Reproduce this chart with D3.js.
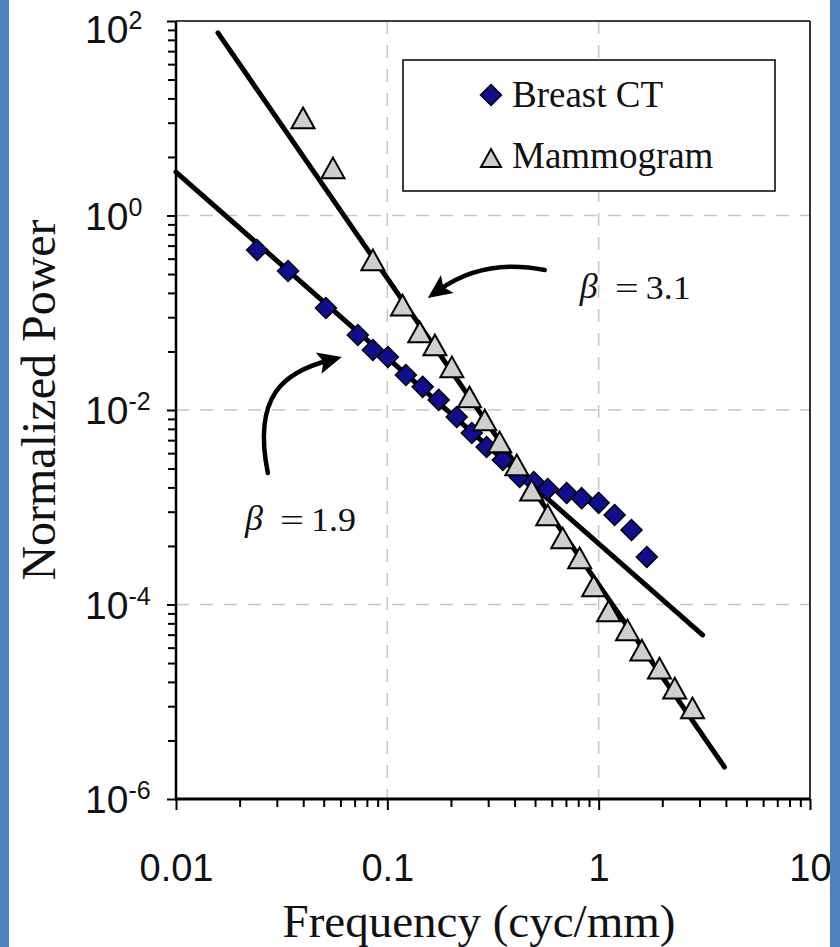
<!DOCTYPE html>
<html lang="en">
<head>
<meta charset="utf-8">
<title>Normalized power spectra</title>
<style>
  body { margin: 0; background: white; }
  svg { display: block; }
  .sans { font-family: "Liberation Sans", Arial, sans-serif; }
  .serif { font-family: "Liberation Serif", "Times New Roman", serif; }
</style>
</head>
<body>
<div id="chart"></div>
<script src="https://d3js.org/d3.v7.min.js"></script>
<script>
// values
var breastFreq  = [0.0242, 0.0339, 0.0512, 0.0725, 0.0854, 0.1006, 0.1224, 0.147, 0.175, 0.213, 0.251,
                   0.295, 0.352, 0.423, 0.493, 0.574, 0.706, 0.831, 1.0, 1.19, 1.43, 1.69];
var breastPower = [0.442, 0.269, 0.112, 0.059, 0.0414, 0.0351, 0.0229, 0.0173, 0.0127, 0.00847, 0.0058,
                   0.00417, 0.00306, 0.00205, 0.00182, 0.00154, 0.0014, 0.00124, 0.00111, 0.000832, 0.000583, 0.000308];

var mammoFreq  = [0.0399, 0.0553, 0.0854, 0.118, 0.1425, 0.168, 0.202, 0.245, 0.289, 0.34, 0.41,
                  0.482, 0.574, 0.676, 0.813, 0.947, 1.115, 1.37, 1.6, 1.94, 2.29, 2.78];
var mammoPower = [10.1, 3.08, 0.349, 0.12, 0.0634, 0.0466, 0.0277, 0.0136, 0.00789, 0.00469, 0.00272,
                  0.0015, 0.000832, 0.000483, 0.000301, 0.000155, 8.57e-5, 5.47e-5, 3.4e-5, 2.22e-5, 1.38e-5, 8.63e-6];

// power-law fit lines (end points)
var breastFitFreq  = [0.01, 3.1];
var breastFitPower = [2.8, 4.86e-5];
var mammoFitFreq   = [0.0158, 3.94];
var mammoFitPower  = [75.4, 2.13e-6];

var xTickValues = [0.01, 0.1, 1, 10];
var xTickLabels = ["0.01", "0.1", "1", "10"];
var yTickExponents = [2, 0, -2, -4, -6];
var legendLabels = ["Breast CT", "Mammogram"];
var betaLabels = ["3.1", "1.9"];

// annotation arrows (freq, power): start, control 1, control 2, tip
var arrowBeta31 = [[0.5555, 0.2752], [0.3594, 0.3325], [0.2455, 0.2885], [0.1554, 0.1418]];
var arrowBeta19 = [[0.0272, 0.00225], [0.0229, 0.0143], [0.0328, 0.0246], [0.0609, 0.0351]];
var labelBeta31 = [0.813, 0.138];
var labelBeta19 = [0.0212, 0.000565];

var width = 840, height = 947;
var plot = {left: 176, right: 810, top: 21, bottom: 799};

var svg = d3.select("#chart").append("svg")
    .attr("width", width)
    .attr("height", height);

svg.append("rect").attr("width", width).attr("height", height).attr("fill", "white");

var x = d3.scaleLog().domain([0.01, 10]).range([plot.left, plot.right]);
var y = d3.scaleLog().domain([1e-6, 1e2]).range([plot.bottom, plot.top]);

// gridlines (dashed, only at inner labelled decades)
var g = svg.append("g");
g.selectAll(".vgrid").data([0.1, 1]).enter().append("line")
    .attr("x1", d => x(d)).attr("x2", d => x(d))
    .attr("y1", plot.top).attr("y2", plot.bottom)
    .attr("stroke", "#c6c6c6").attr("stroke-width", 1.5).attr("stroke-dasharray", "13,11");
g.selectAll(".hgrid").data([1, 1e-2, 1e-4]).enter().append("line")
    .attr("y1", d => y(d)).attr("y2", d => y(d))
    .attr("x1", plot.left).attr("x2", plot.right)
    .attr("stroke", "#c6c6c6").attr("stroke-width", 1.5).attr("stroke-dasharray", "13,11");

// minor ticks
var xMinor = [];
[0.01, 0.1, 1].forEach(function(d) { for (var k = 2; k <= 9; k++) xMinor.push(d * k); });
var yMinor = [];
[1e-6, 1e-4, 1e-2, 1].forEach(function(d) { for (var k = 2; k <= 9; k++) yMinor.push(d * k * k); });

svg.append("g").attr("transform", "translate(0," + plot.bottom + ")")
    .call(d3.axisBottom(x).tickValues(xMinor).tickSize(8).tickSizeOuter(0).tickFormat(""))
    .call(s => s.select(".domain").remove())
    .selectAll("line").attr("stroke-width", 2);

svg.append("g").attr("transform", "translate(0," + plot.bottom + ")")
    .call(d3.axisBottom(x).tickValues(xTickValues).tickSize(11).tickSizeOuter(0).tickPadding(44)
        .tickFormat((d, i) => xTickLabels[i]))
    .call(s => s.select(".domain").remove())
    .call(s => s.selectAll("line").attr("stroke-width", 2))
    .call(s => s.selectAll("text").attr("class", "sans").attr("font-size", 38).attr("fill", "#111"));

svg.append("g").attr("transform", "translate(" + plot.left + ",0)")
    .call(d3.axisLeft(y).tickValues(yMinor).tickSize(8).tickSizeOuter(0).tickFormat(""))
    .call(s => s.select(".domain").remove())
    .selectAll("line").attr("stroke-width", 2);

svg.append("g").attr("transform", "translate(" + plot.left + ",0)")
    .call(d3.axisLeft(y).tickValues(yTickExponents.map(e => Math.pow(10, e))).tickSize(9).tickSizeOuter(0).tickFormat(""))
    .call(s => s.select(".domain").remove())
    .selectAll("line").attr("stroke-width", 2);

// y labels 10^n, left aligned
var yl = svg.append("g").attr("class", "sans").attr("fill", "#111");
yTickExponents.forEach(function(e) {
    var t = yl.append("text")
        .attr("x", 85)
        .attr("y", Math.max(y(Math.pow(10, e)) + 14, 43))
        .attr("font-size", 39);
    t.append("tspan").text("10");
    t.append("tspan").attr("font-size", 25).attr("dy", -14).text(e < 0 ? "-" + (-e) : String(e));
});

// frame
var frame = svg.append("g").attr("stroke", "#000");
frame.append("line").attr("x1", plot.left).attr("x2", plot.right).attr("y1", plot.top).attr("y2", plot.top).attr("stroke-width", 1.5);
frame.append("line").attr("x1", plot.right).attr("x2", plot.right).attr("y1", plot.top).attr("y2", plot.bottom).attr("stroke-width", 2).attr("stroke", "#333");
frame.append("line").attr("x1", plot.left).attr("x2", plot.left).attr("y1", plot.top).attr("y2", plot.bottom).attr("stroke-width", 2.5);
frame.append("line").attr("x1", plot.left - 1).attr("x2", plot.right).attr("y1", plot.bottom).attr("y2", plot.bottom).attr("stroke-width", 3);

// legend box
var legend = svg.append("g");
legend.append("rect").attr("x", 403).attr("y", 60).attr("width", 372).attr("height", 131)
    .attr("fill", "white").attr("stroke", "#000").attr("stroke-width", 1.5);

// symbols
var diamondType = {draw: function(p, size) {
    var r = Math.sqrt(size) / 2;
    p.moveTo(0, -r); p.lineTo(r, 0); p.lineTo(0, r); p.lineTo(-r, 0); p.closePath();
}};
var triangleType = {draw: function(p, size) {
    var w = Math.sqrt(size) / 2, h = w * 0.9;
    p.moveTo(0, -h); p.lineTo(w, h); p.lineTo(-w, h); p.closePath();
}};
var diamond = d3.symbol().type(diamondType).size(21 * 21);
var triangle = d3.symbol().type(triangleType).size(23 * 23);

// fit lines
var line = d3.line().x(d => x(d[0])).y(d => y(d[1]));
[[breastFitFreq, breastFitPower], [mammoFitFreq, mammoFitPower]].forEach(function(f) {
    svg.append("path")
        .attr("d", line(d3.zip(f[0], f[1])))
        .attr("fill", "none").attr("stroke", "#000").attr("stroke-width", 5).attr("stroke-linecap", "round");
});

// data points
svg.append("g").selectAll("path").data(d3.zip(breastFreq, breastPower)).enter().append("path")
    .attr("d", diamond)
    .attr("transform", d => "translate(" + x(d[0]) + "," + y(d[1]) + ")")
    .attr("fill", "#0e0e8e").attr("stroke", "#000").attr("stroke-width", 1.5);

svg.append("g").selectAll("path").data(d3.zip(mammoFreq, mammoPower)).enter().append("path")
    .attr("d", triangle)
    .attr("transform", d => "translate(" + x(d[0]) + "," + y(d[1]) + ")")
    .attr("fill", "#cfcfcf").attr("stroke", "#000").attr("stroke-width", 2);

// legend entries
legend.append("path").attr("d", diamond).attr("transform", "translate(491,95)")
    .attr("fill", "#0e0e8e").attr("stroke", "#000").attr("stroke-width", 1.5);
legend.append("path").attr("d", d3.symbol().type(triangleType).size(20 * 20)).attr("transform", "translate(491,158)")
    .attr("fill", "#cfcfcf").attr("stroke", "#000").attr("stroke-width", 2);
legend.selectAll("text").data(legendLabels).enter().append("text")
    .attr("class", "serif").attr("x", 512).attr("y", (d, i) => 107 + i * 61)
    .attr("font-size", 37).attr("fill", "#111").text(d => d);

// annotation arrows
function drawArrow(pts) {
    var p = pts.map(d => [x(d[0]), y(d[1])]);
    var dx = p[3][0] - p[2][0], dy = p[3][1] - p[2][1];
    var len = Math.sqrt(dx * dx + dy * dy);
    var ux = dx / len, uy = dy / len;
    var end = [p[3][0] - ux * 14, p[3][1] - uy * 14];
    var path = d3.path();
    path.moveTo(p[0][0], p[0][1]);
    path.bezierCurveTo(p[1][0], p[1][1], p[2][0], p[2][1], end[0], end[1]);
    svg.append("path").attr("d", path.toString())
        .attr("fill", "none").attr("stroke", "#000").attr("stroke-width", 4.5).attr("stroke-linecap", "round");
    var hl = 24, hw = 11;
    var bx = p[3][0] - ux * hl, by = p[3][1] - uy * hl;
    var head = d3.path();
    head.moveTo(p[3][0], p[3][1]);
    head.lineTo(bx - uy * hw, by + ux * hw);
    head.lineTo(bx + ux * 5, by + uy * 5);
    head.lineTo(bx + uy * hw, by - ux * hw);
    head.closePath();
    svg.append("path").attr("d", head.toString()).attr("fill", "#000");
}
drawArrow(arrowBeta31);
drawArrow(arrowBeta19);

// beta labels: stretched like the original
[[labelBeta31, betaLabels[0]], [labelBeta19, betaLabels[1]]].forEach(function(l) {
    var lx = x(l[0][0]), ly = y(l[0][1]);
    var t = svg.append("g").attr("class", "serif").attr("fill", "#111");
    t.append("text").attr("x", lx).attr("y", ly - 1).attr("font-size", 36)
        .attr("font-style", "italic").text("\u03b2");
    t.append("text").attr("x", lx + 35).attr("y", ly).attr("font-size", 32)
        .attr("textLength", 24).attr("lengthAdjust", "spacingAndGlyphs").text("=");
    t.append("text").attr("x", lx + 66).attr("y", ly).attr("font-size", 33)
        .attr("textLength", 45).attr("lengthAdjust", "spacingAndGlyphs").text(l[1]);
});

// axis titles
svg.append("text").attr("class", "serif")
    .attr("x", 479).attr("y", 937).attr("text-anchor", "middle")
    .attr("font-size", 47).attr("fill", "#111").text("Frequency (cyc/mm)");
svg.append("text").attr("class", "serif")
    .attr("transform", "translate(55,400) rotate(-90)").attr("text-anchor", "middle")
    .attr("font-size", 48).attr("fill", "#111").text("Normalized Power");

// blue side bars
svg.append("rect").attr("x", 0).attr("y", 0).attr("width", 9).attr("height", height).attr("fill", "#4f81bd");
svg.append("rect").attr("x", 830).attr("y", 0).attr("width", 10).attr("height", height).attr("fill", "#4f81bd");
</script>
</body>
</html>
